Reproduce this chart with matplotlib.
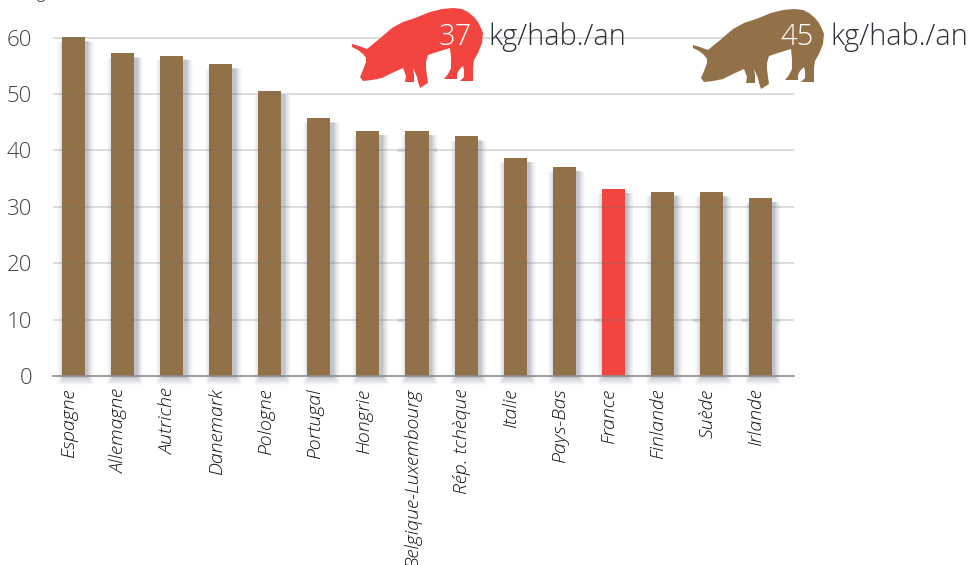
import matplotlib
matplotlib.use('Agg')
import matplotlib.pyplot as plt
from matplotlib.patches import Polygon
from matplotlib.transforms import ScaledTranslation

W, H = 970, 565

countries = ['Espagne', 'Allemagne', 'Autriche', 'Danemark', 'Pologne', 'Portugal', 'Hongrie',
             'Belgique-Luxembourg', 'Rép. tchèque', 'Italie', 'Pays-Bas', 'France', 'Finlande',
             'Suède', 'Irlande']
values = [60.1, 57.2, 56.8, 55.3, 50.6, 45.7, 43.5, 43.5, 42.5, 38.7, 37.1, 33.2, 32.7, 32.6, 31.6]
y_ticks = [0, 10, 20, 30, 40, 50, 60]

BROWN = '#937148'
RED = '#f24540'
FONT = 'Open Sans'

# pig silhouette, in pixels of the reference (red pig)
pig_shape = [(352, 44), (359, 46), (367, 49), (378, 40), (392, 28), (403, 22), (415, 18), (430, 12),
             (442, 9), (453, 8), (462, 9), (468, 12), (474, 17), (478, 22), (481, 28), (483, 33), (482, 43),
             (478, 53), (474, 60), (473, 67), (473, 75), (473, 81), (460, 81), (464, 77), (464, 70), (463, 66),
             (459, 70), (457, 74), (457, 79), (444, 79), (448, 74), (451, 68), (451, 58), (450, 48),
             (437, 52), (428, 55), (426, 62), (426, 68), (427, 76), (428, 83), (420, 88), (418, 82), (417, 77),
             (413, 68), (414, 74), (414, 82), (405, 82), (406, 76), (403, 68), (392, 73), (382, 78), (372, 80),
             (363, 81), (360, 77), (363, 70), (366, 62), (366, 58), (363, 54), (358, 50), (352, 47)]


def draw_pig(fig, dx, dy, color):
    pts = [((x + dx) / W, 1 - (y + dy) / H) for x, y in pig_shape]
    fig.add_artist(Polygon(pts, closed=True, facecolor=color, edgecolor='none',
                           transform=fig.transFigure, zorder=5))


def main():
    fig = plt.figure(figsize=(W / 100, H / 100), dpi=100)
    ax = fig.add_axes([53 / W, 1 - 376 / H, 741 / W, 376 / H])
    ax.set_xlim(-0.418, 14.683)
    ax.set_ylim(0, 66.67)

    colors = [RED if c == 'France' else BROWN for c in countries]
    pos = list(range(len(countries)))

    # soft shadow to the right of the bars
    for grow, alpha in [(0.28, 0.025), (0.24, 0.03), (0.2, 0.04), (0.16, 0.05), (0.12, 0.06), (0.08, 0.08), (0.04, 0.1)]:
        ax.bar([p + 0.05 for p in pos], [v - 0.4 + grow * 4 for v in values], width=0.47 + grow,
               bottom=-0.2 - grow * 5, color='#4a5468', alpha=alpha, zorder=1, clip_on=False, linewidth=0)
    ax.bar(pos, values, width=0.47, color=colors, zorder=2)

    # grid runs over the bars, slightly see-through
    for y in y_ticks[1:]:
        ax.axhline(y, color='#6e6e6e', alpha=0.3, lw=1.1, zorder=3)

    # small smudges on some grid lines
    for y, names in [(40, ['Belgique-Luxembourg']), (10, ['Belgique-Luxembourg', 'France', 'Suède', 'Irlande'])]:
        for name in names:
            i = countries.index(name)
            ax.plot([i - 0.36, i + 0.36], [y, y], color='#cccccc', lw=2.5, alpha=0.6, zorder=1)

    for side in ['top', 'right', 'left']:
        ax.spines[side].set_visible(False)
    ax.spines['bottom'].set_color('#8c8c8c')
    ax.spines['bottom'].set_linewidth(1.2)
    ax.spines['bottom'].set_zorder(4)

    ax.set_yticks(y_ticks)
    ax.set_yticklabels([str(y) for y in y_ticks], fontsize=16, fontfamily=FONT, fontweight='light', color='#444444')
    ax.tick_params(axis='y', length=0, pad=15)

    ax.set_xticks(pos)
    ax.set_xticklabels(countries, rotation=90, fontsize=14, fontstyle='italic', fontfamily=FONT,
                       fontweight='light', color='#111111')
    ax.tick_params(axis='x', length=0, pad=9)
    shift = ScaledTranslation(-4 / 100, 0, fig.dpi_scale_trans)
    for t in ax.get_xticklabels():
        t.set_transform(t.get_transform() + shift)

    # clipped unit label at the very top
    fig.text(38 / W, 1 + 2 / H, 'kg', fontsize=11, color='#555555', family=FONT, ha='center', va='baseline')

    draw_pig(fig, 0, 0, RED)
    draw_pig(fig, 341, 1, BROWN)

    for x, num in [(439, '37'), (780, '45')]:
        fig.text(x / W, 1 - 45 / H, num, fontsize=21, color='white', family=FONT, fontweight='light',
                 va='baseline', zorder=6)
    for x in [488, 830]:
        fig.text(x / W, 1 - 45 / H, 'kg/hab./an', fontsize=20.8, color='#2b2f36', family=FONT,
                 fontweight='light', va='baseline', zorder=6)

    fig.savefig('out.png', dpi=100)


if __name__ == "__main__":
    main()
